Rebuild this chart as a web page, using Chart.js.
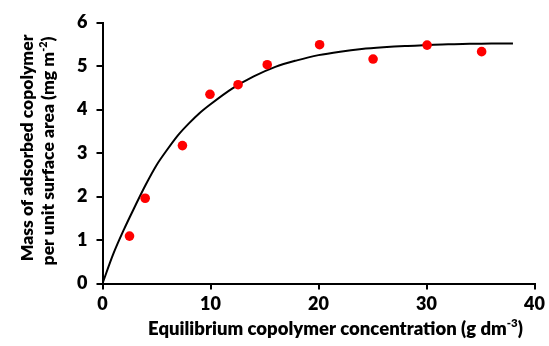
<!DOCTYPE html>
<html>
<head>
<meta charset="utf-8">
<script src="https://cdn.jsdelivr.net/npm/chart.js@4.4.1/dist/chart.umd.min.js"></script>
<style>
  html, body { margin: 0; padding: 0; background: #ffffff; }
  #wrap { width: 549px; height: 346px; }
</style>
</head>
<body>
<div id="wrap"><canvas id="c" width="549" height="346"></canvas></div>
<script>
// Measured data points (equilibrium concentration, adsorbed mass)
const pointX = [2.5, 3.95, 7.4, 9.95, 12.55, 15.25, 20.1, 25.05, 30.05, 35.1];
const pointY = [1.09, 1.96, 3.17, 4.35, 4.57, 5.03, 5.49, 5.16, 5.48, 5.33];

// Fitted curve
const curveX = [0, 1, 2, 3, 4, 5, 6, 7, 8, 9, 10, 12, 14, 16, 18, 20, 22, 24, 26, 28, 30, 32, 34, 36, 38];
const curveY = [0, 0.68, 1.25, 1.77, 2.27, 2.72, 3.08, 3.41, 3.68, 3.92, 4.12, 4.48, 4.76, 4.98, 5.13, 5.25, 5.33, 5.39, 5.43, 5.46, 5.48, 5.50, 5.51, 5.52, 5.52];

const xTicks = [0, 10, 20, 30, 40];
const yTicks = [0, 1, 2, 3, 4, 5, 6];

const xTitle = [{t: 'Equilibrium copolymer concentration (g dm'}, {t: '-3', sup: true}, {t: ')'}];
const yTitle1 = [{t: 'Mass of adsorbed copolymer'}];
const yTitle2 = [{t: 'per unit surface area (mg m'}, {t: '-2', sup: true}, {t: ')'}];

const FONT = 'Lato, "Open Sans", sans-serif';
const W = '800';

function richWidth(ctx, parts, size) {
  let total = 0;
  parts.forEach(p => {
    ctx.font = W + ' ' + (p.sup ? size * 0.62 : size) + 'px ' + FONT;
    total += ctx.measureText(p.t).width;
  });
  return total;
}

function drawRich(ctx, parts, size) {
  const total = richWidth(ctx, parts, size);
  let x = -total / 2;
  parts.forEach(p => {
    ctx.font = W + ' ' + (p.sup ? size * 0.62 : size) + 'px ' + FONT;
    ctx.fillText(p.t, x, p.sup ? -size * 0.42 : 0);
    x += ctx.measureText(p.t).width;
  });
}

const titlesPlugin = {
  id: 'titles',
  afterDraw(chart) {
    const ctx = chart.ctx;
    ctx.save();
    ctx.fillStyle = '#000';
    ctx.textAlign = 'left';
    ctx.textBaseline = 'alphabetic';
    ctx.save();
    ctx.translate(335.5, 335);
    drawRich(ctx, xTitle, 18.5);
    ctx.restore();
    ctx.save();
    ctx.translate(33, 148);
    ctx.rotate(-Math.PI / 2);
    drawRich(ctx, yTitle1, 17.5);
    ctx.restore();
    ctx.save();
    ctx.translate(54, 151);
    ctx.rotate(-Math.PI / 2);
    drawRich(ctx, yTitle2, 17.5);
    ctx.restore();
    ctx.restore();
  }
};

const tickFont = { family: FONT, size: 18, weight: W };

new Chart(document.getElementById('c'), {
  type: 'scatter',
  data: {
    datasets: [
      {
        label: 'Measured',
        data: pointX.map((x, i) => ({x: x, y: pointY[i]})),
        backgroundColor: '#ff0000',
        borderColor: '#ff0000',
        pointRadius: 4.8,
        pointBorderWidth: 0,
        showLine: false
      },
      {
        label: 'Fit',
        data: curveX.map((x, i) => ({x: x, y: curveY[i]})),
        showLine: true,
        borderColor: '#000000',
        borderWidth: 2,
        pointRadius: 0,
        cubicInterpolationMode: 'monotone',
        fill: false
      }
    ]
  },
  options: {
    responsive: false,
    animation: false,
    devicePixelRatio: 1,
    layout: { padding: { left: 0, right: 12.5, top: 22.5, bottom: 0 } },
    plugins: { legend: { display: false }, tooltip: { enabled: false } },
    scales: {
      x: {
        type: 'linear', min: 0, max: 40,
        afterBuildTicks: s => { s.ticks = xTicks.map(v => ({value: v})); },
        afterFit: s => { s.height = 62.5; },
        border: { color: '#000', width: 2 },
        grid: { drawOnChartArea: false, drawTicks: true, tickLength: 6, color: '#000', lineWidth: 2 },
        ticks: { font: tickFont, color: '#000', padding: 4, maxRotation: 0 }
      },
      y: {
        type: 'linear', min: 0, max: 6,
        afterBuildTicks: s => { s.ticks = yTicks.map(v => ({value: v})); },
        afterFit: s => { s.width = 102.5; },
        border: { color: '#000', width: 2 },
        grid: { drawOnChartArea: false, drawTicks: true, tickLength: 6, color: '#000', lineWidth: 2 },
        ticks: { font: tickFont, color: '#000', padding: 9 }
      }
    }
  },
  plugins: [titlesPlugin]
});
</script>
</body>
</html>
